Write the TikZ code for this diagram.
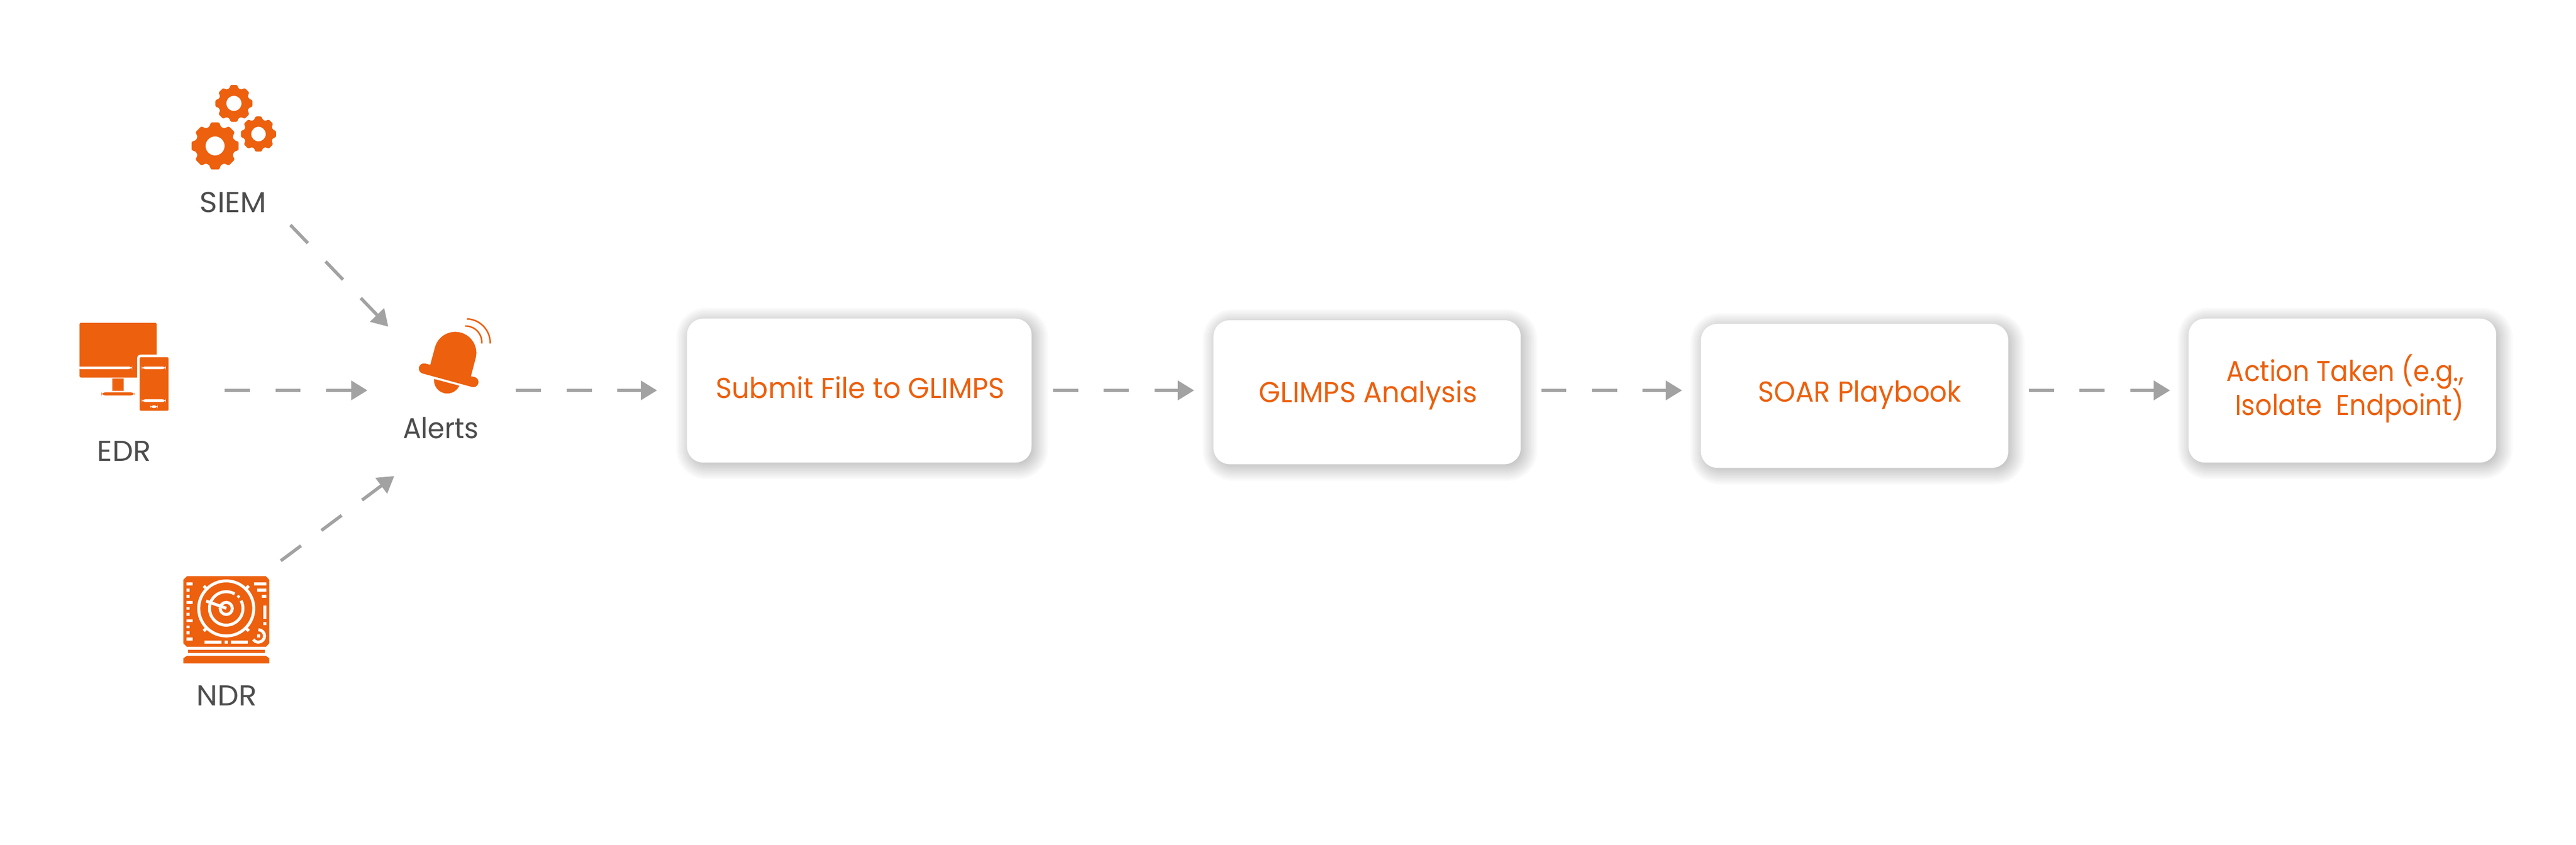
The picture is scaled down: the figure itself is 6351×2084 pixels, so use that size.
\documentclass[tikz,border=0pt]{standalone}
\usepackage{fontspec}
\usetikzlibrary{arrows.meta,calc}
\newfontfamily\dfont{Poppins}
\newcommand\stretched[2]{{\addfontfeature{FakeStretch=#1}#2}}
\definecolor{brand}{HTML}{EC600E}
\definecolor{flowgray}{HTML}{A2A2A2}
\definecolor{labelgray}{HTML}{4D4D4D}
\tikzset{
  flow/.style={draw=flowgray,line width=2.276pt,dash pattern=on 17.64pt off 17.92pt,
    -{Triangle[length=11.4pt,width=13.3pt,fill=flowgray]}},
  boxnode/.style={rectangle,fill=white,draw=none,rounded corners=11.4pt,inner sep=0pt},
  boxtext/.style={inner sep=0pt,anchor=base,text=brand,font=\dfont\fontsize{20.2}{24}\selectfont},
  icontext/.style={inner sep=0pt,anchor=base,text=labelgray,font=\dfont\fontsize{20.2}{24}\selectfont},
  iconunits/.style={x=0.0033333cm,y=-0.0033333cm},
}
% drop shadow: stacked translucent rounded rectangles
\newcommand\softshadow[4]{%
  \foreach \e in {34,30,...,-34}{%
    \pgfmathsetmacro\rr{max(40+\e,6)*0.28453}%
    \fill[black,opacity=0.018,rounded corners=\rr pt]
      ({#1+7-\e},{#2+7-\e}) rectangle ({#3+7+\e},{#4+7+\e});
  }%
}
\newcommand\gear[4]{%
  \begin{scope}[shift={(#1,#2)}]
    \fill[brand,even odd rule,rounded corners=0.9pt]
      (-17:{0.83*#3})
      \foreach \a in {0,45,...,315}{
        -- ({\a-17}:{0.83*#3}) -- ({\a-10}:{#3}) -- ({\a+10}:{#3}) -- ({\a+17}:{0.83*#3})
      } -- cycle
      (0,0) circle[radius=#4];
  \end{scope}%
}
\begin{document}
\begin{tikzpicture}[x=0.01cm,y=-0.01cm]
\useasboundingbox (0,0) rectangle (6351,2084);
\fill[white] (0,0) rectangle (6351,2084);

% gears
\gear{530.3}{360}{59}{23.5}
\gear{576.7}{255}{46.3}{18.7}
\gear{637.3}{330.7}{44}{18}

% monitor + phone
\begin{scope}[shift={(150,750)},iconunits]
  \fill[brand] (138,150) arc[start angle=180,end angle=270,radius=11] -- (699,139)
     arc[start angle=270,end angle=360,radius=11] -- (710,375) -- (590,375)
     arc[start angle=-90,end angle=-180,radius=25] -- (565,545) -- (150,545)
     arc[start angle=90,end angle=180,radius=12] -- cycle;
  \fill[white,rounded corners=2.5pt] (120,463) rectangle (528,482);
  \fill[brand] (381,553) rectangle (467,643);
  \fill[brand,rounded corners=2.5pt] (302,655) rectangle (546,677);
  \fill[brand,rounded corners=1pt] (584,394) rectangle (798,791);
  \fill[white,rounded corners=2.5pt] (600,463) rectangle (778,482);
  \fill[white,rounded corners=2.5pt] (600,706) rectangle (778,726);
  \fill[white,rounded corners=2.5pt] (662,751) rectangle (717,771);
\end{scope}

% radar
\begin{scope}[shift={(420,1380)},iconunits]
  \fill[brand] (123,124) -- (707,124) -- (733,151) -- (733,621) -- (707,648) -- (123,648) -- (96,621) -- (96,151) -- cycle;
  \fill[brand] (130,669) rectangle (699,692);
  \fill[brand] (96,771) -- (96,733) -- (123,714) -- (707,714) -- (733,733) -- (733,771) -- cycle;
  \foreach \ya/\yb in {170/192,307/329,443/465,579/601}{\fill[white] (119,\ya) rectangle (164,\yb);}
  \foreach \ya/\yb in {216/238,261/283,352/374,397/419,489/511,534/556}{\fill[white] (119,\ya) rectangle (142,\yb);}
  \fill[white] (618,170) rectangle (710,192);
  \fill[white] (642,216) rectangle (710,238);
  \fill[white] (676,261) rectangle (710,283);
  \fill[white] (687,340) rectangle (710,442);
  \fill[white] (687,465) rectangle (710,488);
  \fill[white] (255,602) rectangle (380,624);
  \fill[white] (403,602) rectangle (426,624);
  \fill[white] (449,602) rectangle (573,624);
  \begin{scope}[white,line width=2.09pt]
    \draw (414,363) circle[radius=204];
    \foreach \a in {45,135,225,315}{\draw ($(414,363)+(\a:204)$) -- ($(414,363)+(\a:236)$);}
    \draw (414,363) ++(-60:124) arc[start angle=-60,end angle=-387.6,radius=124];
    \draw (414,363) circle[radius=45];
    \draw (265,308) -- (415,362);
    \draw (652,567) ++(-90:46) arc[start angle=-90,end angle=145,radius=46];
  \end{scope}
  \fill[white] (505,262) -- (518,275) -- (505,289) -- (491,275) -- cycle;
  \fill[white] (641,556) rectangle (664,579);
\end{scope}

% bell
\begin{scope}[shift={(980,750)},iconunits]
  \fill[brand] (578.7,402.4) arc[start angle=15,end angle=-165,radius=156]
    -- (242.8,450) -- (205.8,441.3)
    arc[start angle=-75,end angle=-255,radius=38]
    -- (552.2,614.7)
    arc[start angle=105,end angle=-75,radius=38]
    -- (544,535) -- cycle;
  \fill[brand] (270,555) -- (458,605) arc[start angle=24,end angle=186,radius=98] -- cycle;
  \draw[brand,line width=1.04pt] (515,110) arc[start angle=-88,end angle=1.6,radius=178];
  \draw[brand,line width=1.04pt] (502,163) arc[start angle=-91.4,end angle=4.8,radius=120];
\end{scope}

% boxes
\softshadow{1694}{786}{2543}{1141}
\softshadow{2992}{790}{3749}{1145}
\softshadow{4194}{799}{4951}{1154}
\softshadow{5396}{786}{6154}{1141}
\node[boxnode,minimum width=8.49cm,minimum height=3.55cm] (box1) at (2118.5,963.5) {};
\node[boxnode,minimum width=7.57cm,minimum height=3.55cm] (box2) at (3370.5,967.5) {};
\node[boxnode,minimum width=7.57cm,minimum height=3.55cm] (box3) at (4572.5,976.5) {};
\node[boxnode,minimum width=7.58cm,minimum height=3.55cm] (box4) at (5775,963.5) {};

\node[boxtext] (t1) at (2120.5,983) {\stretched{0.96}{Submit File to GLIMPS}};
\node[boxtext] (t2) at (3373,992.5) {\stretched{0.966}{GLIMPS Analysis}};
\node[boxtext] (t3) at (4585,992) {\stretched{0.946}{SOAR Playbook}};
\node[boxtext,anchor=base east] (t4a) at (6075,940) {\stretched{0.908}{Action Taken (e.g.,}};
\node[boxtext,anchor=base east] (t4b) at (6075,1025) {\stretched{0.913}{Isolate\ \ Endpoint)}};

% labels
\node[icontext] (siem) at (575,524) {\stretched{1.05}{SIEM}};
\node[icontext] (edr) at (306,1137) {\stretched{1.02}{EDR}};
\node[icontext] (ndr) at (559,1741) {\stretched{1.04}{NDR}};
\node[icontext] (alerts) at (1087,1082) {\stretched{0.94}{Alerts}};

% connectors
\coordinate (flowy) at (0,963);
\coordinate (siemout) at (716,555);
\coordinate (alertsinA) at (957.3,805.7);
\coordinate (edrout) at (554,963);
\coordinate (alertsinB) at (906,963);
\coordinate (ndrout) at (692.3,1383.3);
\coordinate (alertsinC) at (972,1174.3);
\coordinate (alertsout) at (1272,963);
\draw[flow] (siemout) -- (alertsinA);
\draw[flow] (edrout) -- (alertsinB);
\draw[flow] (ndrout) -- (alertsinC);
\draw[flow,shorten >=20.8pt] (alertsout) -- (box1.west |- flowy);
\draw[flow,shorten <=14.8pt,shorten >=13.4pt] (box1.east |- flowy) -- (box2.west |- flowy);
\draw[flow,shorten <=14.2pt,shorten >=13.1pt] (box2.east |- flowy) -- (box3.west |- flowy);
\draw[flow,shorten <=14.2pt,shorten >=12.8pt] (box3.east |- flowy) -- (box4.west |- flowy);
\end{tikzpicture}
\end{document}
